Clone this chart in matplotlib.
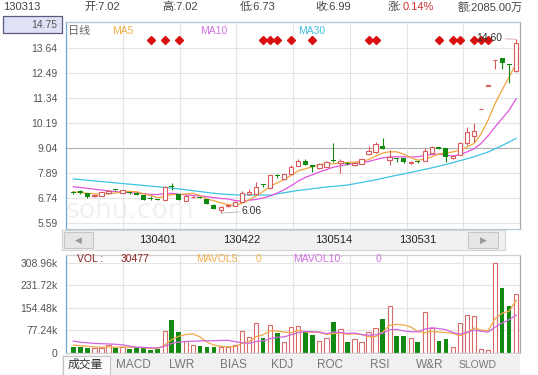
import matplotlib
matplotlib.use('Agg')
import matplotlib.pyplot as plt
from matplotlib.patches import Rectangle
import numpy as np

plt.rcParams['font.family'] = ['Liberation Sans', 'Noto Sans CJK SC', 'DejaVu Sans']

# ---- data ----
opens = [7.05, 7.08, 6.97, 6.85, 6.85, 6.97, 7.13, 7.00, 7.03, 7.00,
         6.89, 6.71, 6.68, 6.66, 7.29, 6.92, 6.62, 6.78, 6.79, 6.69,
         6.45, 6.20, 6.37, 6.39, 6.58, 6.92, 6.94, 7.40, 7.20, 7.80,
         7.61, 7.86, 8.24, 8.44, 8.22, 8.13, 8.19, 8.47, 8.35, 8.32,
         8.26, 8.32, 8.76, 8.86, 9.16, 8.50, 8.58, 8.58, 8.35, 8.43,
         8.46, 8.84, 9.06, 9.04, 8.58, 8.73, 9.30, 9.61, 10.83, 11.91,
         13.08, 13.18, 12.90, 12.61]
highs = [7.08, 7.10, 6.99, 6.90, 7.04, 7.12, 7.14, 7.14, 7.05, 7.01,
         6.90, 6.84, 6.70, 7.29, 7.46, 6.94, 6.87, 6.83, 6.80, 6.70,
         6.47, 6.37, 6.43, 6.60, 7.08, 7.15, 7.50, 7.42, 7.83, 7.87,
         7.88, 8.25, 8.56, 8.56, 8.24, 8.38, 8.44, 9.27, 8.54, 8.42,
         8.40, 8.56, 9.15, 9.34, 9.50, 8.96, 8.60, 8.60, 8.45, 8.44,
         9.04, 9.16, 9.10, 9.06, 8.72, 9.34, 10.03, 10.19, 10.83, 11.91,
         13.10, 13.20, 12.92, 14.05]
lows = [6.95, 6.95, 6.77, 6.82, 6.84, 6.96, 7.09, 6.99, 6.95, 6.87,
        6.64, 6.68, 6.64, 6.65, 7.12, 6.64, 6.60, 6.76, 6.74, 6.46,
        6.23, 6.06, 6.35, 6.37, 6.56, 6.90, 6.92, 7.27, 7.18, 7.68,
        7.60, 7.84, 8.22, 8.25, 7.96, 8.11, 8.17, 8.43, 7.90, 8.26,
        8.24, 8.30, 8.74, 8.84, 9.00, 8.27, 8.41, 8.38, 8.32, 8.35,
        8.44, 8.82, 9.00, 8.40, 8.56, 8.71, 9.19, 9.34, 10.83, 11.91,
        12.67, 12.67, 12.06, 12.55]
closes = [7.00, 6.97, 6.79, 6.88, 7.02, 7.09, 7.11, 7.12, 6.97, 6.89,
          6.66, 6.69, 6.66, 7.27, 7.25, 6.66, 6.85, 6.81, 6.76, 6.48,
          6.25, 6.35, 6.41, 6.58, 6.97, 7.04, 7.27, 7.37, 7.81, 7.76,
          7.86, 8.17, 8.46, 8.27, 8.20, 8.30, 8.42, 8.45, 8.46, 8.30,
          8.38, 8.54, 8.93, 9.24, 9.02, 8.65, 8.55, 8.40, 8.42, 8.41,
          8.93, 9.09, 9.03, 8.65, 8.70, 9.30, 9.80, 9.84, 10.83, 11.91,
          13.10, 12.95, 12.85, 13.90]
ma5 = [7.04, 7.00, 6.97, 6.95, 6.93, 6.95, 6.98, 7.04, 7.06, 7.04,
       6.95, 6.87, 6.77, 6.83, 6.91, 6.91, 6.94, 6.97, 6.87, 6.71,
       6.63, 6.53, 6.45, 6.41, 6.51, 6.67, 6.85, 7.05, 7.29, 7.45,
       7.61, 7.79, 8.01, 8.10, 8.19, 8.28, 8.33, 8.33, 8.37, 8.39,
       8.40, 8.43, 8.52, 8.68, 8.82, 8.88, 8.88, 8.77, 8.61, 8.49,
       8.54, 8.65, 8.78, 8.82, 8.88, 8.95, 9.10, 9.26, 9.70, 10.34,
       11.10, 11.73, 12.33, 12.94]
ma10 = [7.27, 7.24, 7.20, 7.16, 7.12, 7.08, 7.05, 7.02, 7.00, 6.98,
        6.95, 6.92, 6.91, 6.95, 6.97, 6.93, 6.90, 6.87, 6.85, 6.81,
        6.77, 6.73, 6.71, 6.64, 6.61, 6.65, 6.69, 6.75, 6.85, 6.98,
        7.14, 7.32, 7.53, 7.70, 7.82, 7.95, 8.06, 8.17, 8.24, 8.29,
        8.34, 8.38, 8.43, 8.52, 8.60, 8.64, 8.65, 8.65, 8.64, 8.65,
        8.71, 8.76, 8.77, 8.72, 8.68, 8.75, 8.87, 9.02, 9.26, 9.61,
        10.03, 10.41, 10.80, 11.32]
ma30 = [7.63, 7.60, 7.57, 7.54, 7.51, 7.48, 7.45, 7.42, 7.39, 7.36,
        7.33, 7.30, 7.27, 7.24, 7.21, 7.17, 7.13, 7.09, 7.05, 7.01,
        6.97, 6.94, 6.92, 6.90, 6.89, 6.89, 6.89, 6.89, 6.89, 6.94,
        7.00, 7.05, 7.10, 7.14, 7.18, 7.22, 7.26, 7.29, 7.32, 7.35,
        7.41, 7.47, 7.53, 7.59, 7.66, 7.73, 7.80, 7.86, 7.93, 8.00,
        8.07, 8.14, 8.22, 8.30, 8.38, 8.47, 8.56, 8.65, 8.76, 8.87,
        9.02, 9.17, 9.33, 9.50]

# volume in thousands
vols = [21.7, 21.7, 18.3, 18.3, 18.3, 26.3, 18.3, 21.7, 13.7, 18.3,
        16.0, 11.4, 13.7, 75.5, 113.3, 73.2, 41.2, 27.5, 24.0, 21.7,
        21.7, 19.5, 19.5, 27.5, 75.5, 53.8, 104.0, 52.6, 96.0, 70.0,
        36.6, 90.4, 93.8, 70.9, 61.8, 41.2, 50.3, 107.6, 82.4, 38.9,
        48.1, 38.9, 70.9, 84.7, 116.7, 161.3, 59.5, 59.5, 50.3, 38.9,
        139.6, 84.7, 42.3, 48.1, 20.6, 101.8, 130.5, 127.0, 13.7, 10.3,
        307.8, 224.3, 161.3, 201.4]
mavol5 = [27.0, 25.0, 23.0, 21.0, 19.7, 20.6, 19.9, 20.6, 19.7, 19.7,
          17.6, 16.2, 14.6, 27.0, 46.0, 57.4, 63.4, 66.1, 55.8, 37.5,
          27.2, 22.9, 21.3, 22.0, 32.7, 39.2, 56.1, 62.7, 76.4, 75.3,
          71.8, 69.1, 77.4, 72.3, 70.7, 71.6, 63.6, 66.4, 68.7, 64.1,
          65.5, 63.2, 55.8, 56.3, 71.9, 94.5, 98.6, 96.3, 89.5, 73.9,
          69.6, 74.6, 71.2, 70.7, 67.1, 59.5, 68.7, 85.6, 78.7, 76.7,
          117.9, 136.6, 143.5, 181.0]
mavol10 = [41.0, 37.0, 35.0, 33.0, 32.0, 31.0, 30.0, 28.0, 24.0, 19.7,
           19.1, 18.1, 17.6, 23.3, 32.8, 37.5, 39.8, 40.4, 41.4, 41.8,
           42.3, 43.1, 43.7, 38.9, 35.1, 33.2, 39.5, 42.0, 49.2, 54.0,
           55.5, 62.6, 70.0, 74.4, 73.0, 71.7, 66.4, 71.9, 70.5, 67.4,
           68.5, 63.4, 61.1, 62.5, 68.0, 80.0, 80.9, 76.1, 72.9, 72.9,
           82.0, 86.6, 83.8, 80.1, 70.5, 64.5, 71.6, 78.4, 74.7, 71.9,
           88.7, 102.6, 114.5, 129.9]

price_ticks = [5.59, 6.74, 7.89, 9.04, 10.19, 11.34, 12.49, 13.64]
price_top = 14.75
vol_ticks = [0, 77.24, 154.48, 231.72, 308.96]
vol_tick_labels = ['0', '77.24k', '154.48k', '231.72k', '308.96k']
date_idx = [12, 24, 37, 49]
date_labels = ['130401', '130422', '130514', '130531']
signal_idx = [11, 13, 15, 27, 28, 29, 31, 34, 42, 43, 52, 54, 55, 57, 58, 59]
tabs = ['成交量', 'MACD', 'LWR', 'BIAS', 'KDJ', 'ROC', 'RSI', 'W&R', 'SLOWD']
tab_x = [85, 133, 182, 233, 282, 330, 380, 430, 478]

RED = '#d85a5a'
GREEN = '#128a12'
C5, C10, C30 = '#f0a53c', '#e055e0', '#3cc4e4'
GRID = '#e4e4e4'

W, H = 538, 375
fig = plt.figure(figsize=(W / 100, H / 100), dpi=100)


def fr(x0, y0, x1, y1):
    # pixel box -> figure fraction rect
    return [x0 / W, 1 - y1 / H, (x1 - x0) / W, (y1 - y0) / H]


def fp(x, y):
    return x / W, 1 - y / H


idx = np.arange(len(closes))
o, h, l, c = map(np.array, (opens, highs, lows, closes))
up = c >= o
lo_b = np.minimum(o, c)
hi_b = np.maximum(o, c)

# ---------------- price panel ----------------
ax = fig.add_axes(fr(66, 22, 520, 229))
ax.set_xlim(-1.04, 63.54)
ax.set_ylim(5.328, 14.849)
for s in ['top', 'bottom']:
    ax.spines[s].set_color('#b4c8d6')
ax.spines['left'].set_color('#6fa6d6')
ax.spines['right'].set_color('#a8a8a8')
for s in ax.spines.values():
    s.set_linewidth(0.9)

for p in price_ticks:
    ax.axhline(p, color='#b0b0b0' if p == 9.04 else GRID, lw=0.8, zorder=0)
for f in np.arange(1, 8) / 8:
    ax.plot([f, f], [0, 1], transform=ax.transAxes, color=GRID, lw=0.8, zorder=0)

ax.text(0.0, 0.085, 'sohu.com', transform=ax.transAxes, fontsize=19,
        color='#f1f1f1', family='DejaVu Sans', zorder=0.5, va='center')

ax.set_yticks(price_ticks + [price_top])
ax.set_yticklabels([f'{p:.2f}' for p in price_ticks + [price_top]])
ax.tick_params(axis='y', length=0, pad=6, labelsize=7.5, labelcolor='#555555')
ax.set_xticks([])

ax.plot(idx, ma30, color=C30, lw=0.9, zorder=2)
ax.plot(idx, ma10, color=C10, lw=0.9, zorder=2)
ax.plot(idx, ma5, color=C5, lw=0.9, zorder=2)

bw = 0.62
ax.vlines(idx[up], l[up], lo_b[up], color=RED, lw=0.8, zorder=3)
ax.vlines(idx[up], hi_b[up], h[up], color=RED, lw=0.8, zorder=3)
ax.vlines(idx[~up], l[~up], h[~up], color=GREEN, lw=0.8, zorder=3)
ax.bar(idx[up], np.maximum(hi_b - lo_b, 0.02)[up], bottom=lo_b[up], width=bw,
       facecolor='white', edgecolor=RED, linewidth=0.8, zorder=4)
ax.bar(idx[~up], np.maximum(hi_b - lo_b, 0.05)[~up], bottom=lo_b[~up], width=bw + 0.1,
       color=GREEN, linewidth=0, zorder=4)

# extreme labels
imin = int(np.argmin(l))
ax.annotate(f'{l[imin]:.2f}', xy=(imin, l[imin]), xytext=(15, 1.5),
            textcoords='offset points', fontsize=7.5, color='#333333', va='center',
            arrowprops=dict(arrowstyle='-', color='#bdbdbd', lw=0.7, shrinkA=0, shrinkB=0))
imax = int(np.argmax(h))
ax.annotate('14.60', xy=(imax, h[imax]), xytext=(-10, 1),
            textcoords='offset points', fontsize=7.5, color='#333333', va='center', ha='right',
            arrowprops=dict(arrowstyle='-', color='#e0b0b0', lw=0.7, shrinkA=0, shrinkB=0),
            zorder=6)

# signal diamonds
ax.plot(signal_idx, [0.913] * len(signal_idx), 'D', ms=3.6, color='#d81010',
        transform=ax.get_xaxis_transform(), zorder=5, clip_on=False)

ax.text(0.005, 0.957, '日线', transform=ax.transAxes, fontsize=8, color='#666666', va='center')
ax.text(0.101, 0.957, 'MA5', transform=ax.transAxes, fontsize=7.5, color='#f0b040', va='center')
ax.text(0.295, 0.957, 'MA10', transform=ax.transAxes, fontsize=7.5, color='#d070e0', va='center')
ax.text(0.511, 0.957, 'MA30', transform=ax.transAxes, fontsize=7.5, color='#40c0e0', va='center')

# boxed top price
fig.patches.append(Rectangle(fp(3, 33), 59 / W, 17 / H, transform=fig.transFigure,
                             facecolor='#dfe2f6', edgecolor='#5a5a80', lw=0.9, zorder=-1))

# ---------------- scroll bar with dates ----------------
x0, x1 = ax.get_xlim()
spp = (x1 - x0) / 454.0
axs = fig.add_axes(fr(62, 230, 505, 250))
axs.set_xlim(x0 + (62 - 66) * spp, x0 + (505 - 66) * spp)
axs.set_ylim(0, 1)
axs.set_facecolor('#f1f1f1')
for s in axs.spines.values():
    s.set_color('#d4d4d4')
    s.set_linewidth(0.8)
axs.set_xticks([])
axs.set_yticks([])
for d, lab in zip(date_idx, date_labels):
    axs.text(d, 0.5, lab, ha='center', va='center', fontsize=8, color='#222222')
for bx0, bx1, glyph in [(64, 93, '◀'), (468, 498, '▶')]:
    fig.patches.append(Rectangle(fp(bx0, 248), (bx1 - bx0) / W, 16 / H,
                                 transform=fig.transFigure, facecolor='#e6e6e6',
                                 edgecolor='#c6c6c6', lw=0.8, zorder=2))
    fig.text((bx0 + bx1) / 2 / W, 1 - 240 / H, glyph, ha='center', va='center',
             fontsize=6.5, color='#9a9a9a', family='DejaVu Sans', zorder=3)

# ---------------- volume panel ----------------
axv = fig.add_axes(fr(66, 255, 520, 353))
axv.set_xlim(x0, x1)
axv.set_ylim(0, 336.4)
for s in ['top', 'bottom']:
    axv.spines[s].set_color('#d0d0d0')
axv.spines['left'].set_color('#6fa6d6')
axv.spines['right'].set_color('#a8a8a8')
for s in axv.spines.values():
    s.set_linewidth(0.9)
for v in vol_ticks[1:]:
    axv.axhline(v, color=GRID, lw=0.8, zorder=0)
for f in np.arange(1, 8) / 8:
    axv.plot([f, f], [0, 1], transform=axv.transAxes, color=GRID, lw=0.8, zorder=0)
axv.set_yticks(vol_ticks)
axv.set_yticklabels(vol_tick_labels)
axv.tick_params(axis='y', length=0, pad=6, labelsize=7.5, labelcolor='#555555')
axv.set_xticks([])

va = np.array(vols)
axv.bar(idx[up], va[up], width=0.6, facecolor='white', edgecolor='#d86a6a',
        linewidth=0.8, zorder=2)
axv.bar(idx[~up], va[~up], width=0.66, color=GREEN, linewidth=0, zorder=2)
axv.plot(idx, mavol5, color='#f0a848', lw=0.9, zorder=3)
axv.plot(idx, mavol10, color='#d066e0', lw=0.9, zorder=3)

for x, txt, col in [(77, 'VOL :', '#8b2020'), (121, '30477', '#8b2020'),
                    (196, 'MAVOL5:', '#f0b050'), (256, '0', '#f0b050'),
                    (293, 'MAVOL10:', '#d070e0'), (376, '0', '#d070e0')]:
    fig.text(x / W, 1 - 259 / H, txt, color=col, fontsize=7.5, va='center')

# ---------------- tabs ----------------
fig.patches.append(Rectangle(fp(62, 375), 458 / W, 20 / H, transform=fig.transFigure,
                             facecolor='#f0f0f0', edgecolor='none', zorder=-1))
fig.patches.append(Rectangle(fp(63, 375), 47 / W, 19 / H, transform=fig.transFigure,
                             facecolor='#fbfbfb', edgecolor='#c4c4c4', lw=0.8, zorder=-0.5))
for t, x in zip(tabs, tab_x):
    fig.text(x / W, 1 - 365 / H, t, ha='center', va='center',
             fontsize=8.5 if t != 'SLOWD' else 7.5,
             color='#333333' if t == '成交量' else '#777777')

# ---------------- header ----------------
for x, txt, col in [(3, '130313', '#444444'), (84, '开:7.02', '#444444'),
                    (162, '高:7.02', '#444444'), (240, '低:6.73', '#444444'),
                    (315, '收:6.99', '#444444'), (388, '涨:', '#444444'),
                    (403, '0.14%', '#d03030'), (458, '额:2085.00万', '#444444')]:
    fig.text(x / W, 1 - 7 / H, txt, color=col, fontsize=8, va='center')

fig.savefig('out.png', dpi=100)
